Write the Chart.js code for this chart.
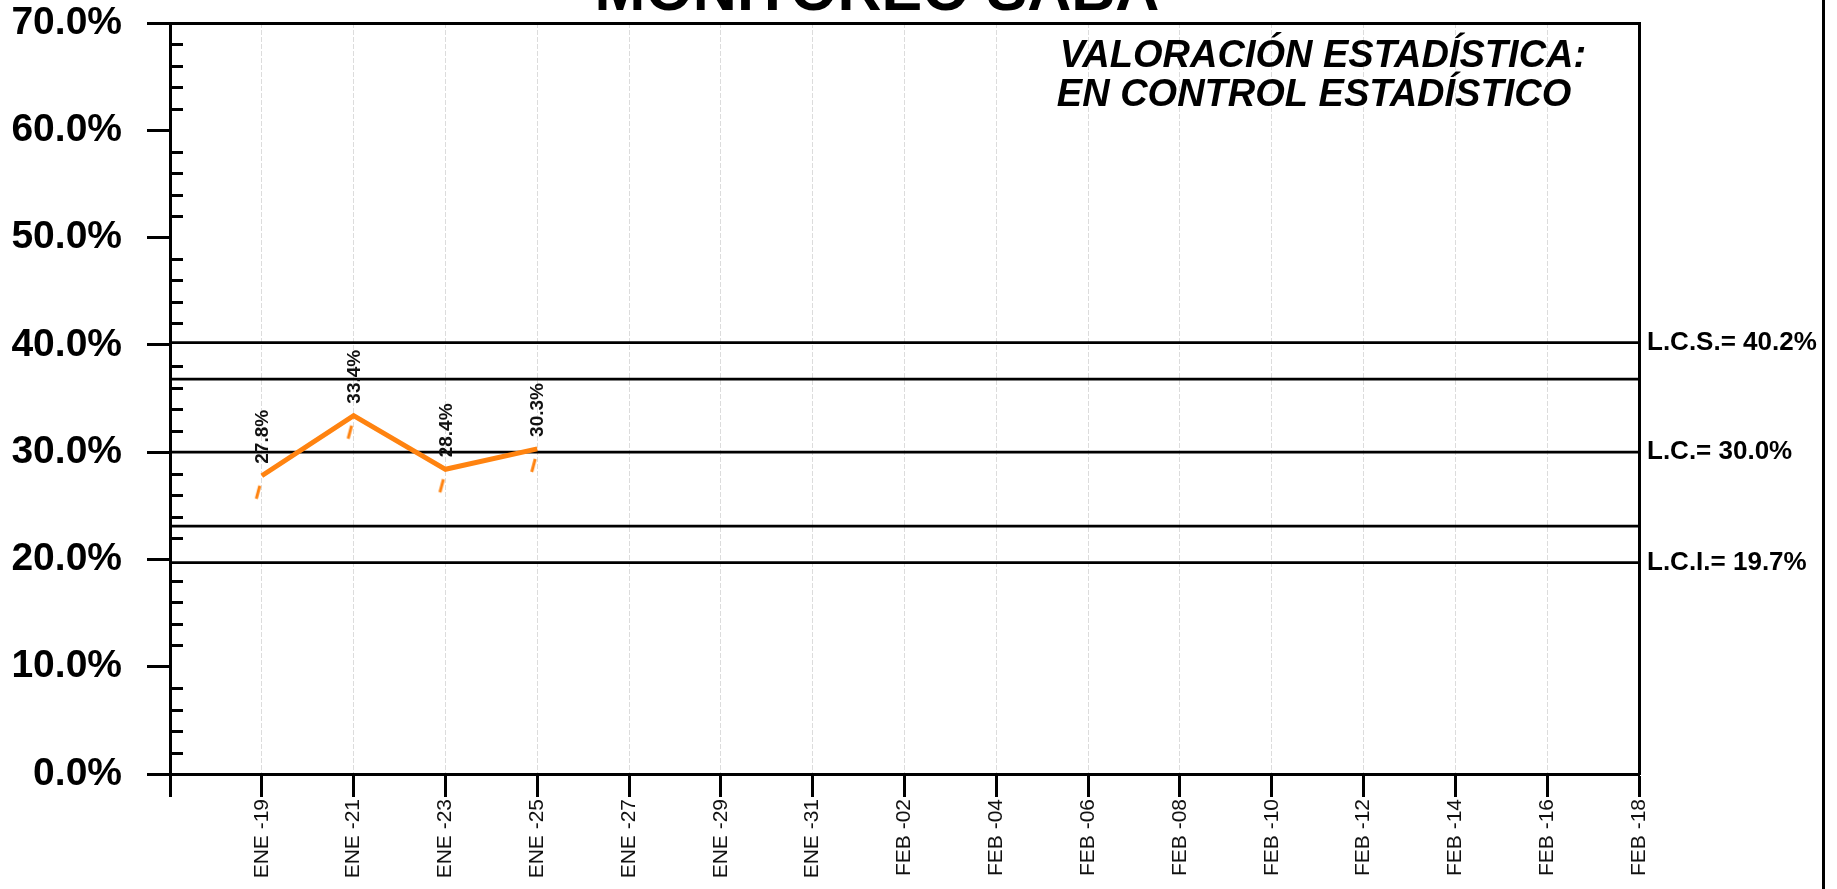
<!DOCTYPE html>
<html>
<head>
<meta charset="utf-8">
<script src="https://cdn.jsdelivr.net/npm/chart.js@4.4.1/dist/chart.umd.min.js"></script>
<style>
  html, body { margin: 0; padding: 0; background: #fff; overflow: hidden; }
  #wrap { position: relative; width: 1837px; height: 889px; }
</style>
</head>
<body>
<div id="wrap"><canvas id="spcChart" width="1837" height="889"></canvas></div>
<script>
// categories (every 2 days, first slot has no label)
const categories = ['', 'ENE -19', 'ENE -21', 'ENE -23', 'ENE -25', 'ENE -27', 'ENE -29', 'ENE -31',
  'FEB -02', 'FEB -04', 'FEB -06', 'FEB -08', 'FEB -10', 'FEB -12', 'FEB -14', 'FEB -16', 'FEB -18'];
const sabaValues = [null, 27.8, 33.4, 28.4, 30.3];

// control limits
const limitValues = [40.2, 30.0, 19.7];
const limitLabels = ['L.C.S.= 40.2%', 'L.C.= 30.0%', 'L.C.I.= 19.7%'];
const warnValues = [36.8, 23.1];

// y axis
const yMin = 0, yMax = 70, yMajor = 10, yMinor = 2;

const chartTitle = 'MONITOREO SABA';
const verdictLines = ['VALORACIÓN ESTADÍSTICA:', 'EN CONTROL ESTADÍSTICO'];

const FONT = '"Liberation Sans", Arial, Helvetica, sans-serif';
const orange = '#ff8310';

function dashMark() {
  const c = document.createElement('canvas');
  c.width = 20; c.height = 60;
  const g = c.getContext('2d');
  g.strokeStyle = orange;
  g.lineWidth = 3;
  g.beginPath();
  g.moveTo(8, 40);
  g.lineTo(4.5, 53);
  g.stroke();
  return c;
}

const flatLine = (v, w) => ({
  data: categories.map(() => v),
  borderColor: '#000',
  borderWidth: w,
  pointRadius: 0,
  fill: false,
  order: 2
});

const pointLabels = {
  id: 'pointLabels',
  afterDatasetsDraw(chart) {
    const meta = chart.getDatasetMeta(0);
    const ctx = chart.ctx;
    ctx.save();
    ctx.font = 'bold 19px ' + FONT;
    ctx.fillStyle = '#111';
    ctx.textAlign = 'left';
    ctx.textBaseline = 'middle';
    meta.data.forEach((pt, i) => {
      const v = sabaValues[i];
      if (v == null) return;
      ctx.save();
      ctx.translate(pt.x + 1, pt.y - 12);
      ctx.rotate(-Math.PI / 2);
      ctx.fillText(v.toFixed(1) + '%', 0, 0);
      ctx.restore();
    });
    ctx.restore();
  }
};

const frame = {
  id: 'frame',
  afterDraw(chart) {
    const ctx = chart.ctx;
    const y = chart.scales.y;
    const left = chart.chartArea.left;
    ctx.save();
    // minor ticks inside the plot
    ctx.strokeStyle = '#000';
    ctx.lineWidth = 3;
    for (let v = yMin; v <= yMax; v += yMinor) {
      if (v % yMajor === 0) continue;
      const py = Math.round(y.getPixelForValue(v)) + 0.5;
      ctx.beginPath();
      ctx.moveTo(left, py);
      ctx.lineTo(left + 13, py);
      ctx.stroke();
    }
    // outer frame line on the right
    ctx.beginPath();
    ctx.moveTo(1823.5, 0);
    ctx.lineTo(1823.5, chart.height);
    ctx.stroke();

    ctx.fillStyle = '#000';
    ctx.textAlign = 'center';
    ctx.textBaseline = 'alphabetic';
    ctx.font = 'bold 61px ' + FONT;
    ctx.fillText(chartTitle, 877, 10);

    ctx.font = 'italic bold 38px ' + FONT;
    ctx.fillText(verdictLines[0], 1323, 67);
    ctx.fillText(verdictLines[1], 1314, 106);
    ctx.restore();
  }
};

const noEdgePad = s => { s.paddingTop = 0; s.paddingBottom = 0; };

new Chart(document.getElementById('spcChart'), {
  type: 'line',
  data: {
    labels: categories,
    datasets: [
      {
        label: 'SABA',
        data: sabaValues,
        borderColor: orange,
        borderWidth: 5,
        pointStyle: dashMark(),
        pointRadius: 3,
        tension: 0,
        fill: false,
        order: 0
      },
      flatLine(limitValues[0], 2.8),
      flatLine(warnValues[0], 2.8),
      flatLine(limitValues[1], 2.8),
      flatLine(warnValues[1], 2.8),
      flatLine(limitValues[2], 2.8)
    ]
  },
  options: {
    responsive: false,
    animation: false,
    layout: { padding: { top: 23, left: 0, right: 0, bottom: 0 } },
    plugins: {
      legend: { display: false },
      tooltip: { enabled: false }
    },
    scales: {
      x: {
        type: 'category',
        offset: false,
        ticks: {
          autoSkip: false, minRotation: 90, maxRotation: 90, padding: 2,
          color: '#111', font: { family: FONT, size: 21 }
        },
        grid: {
          offset: false, color: '#dcdcdc', lineWidth: 1,
          tickLength: 23, tickWidth: 3, tickColor: '#000', tickBorderDash: []
        },
        border: { color: '#000', width: 3, dash: [5, 2] },
        afterFit: s => { s.height = 889 - 774; }
      },
      y: {
        position: 'left',
        min: yMin, max: yMax,
        ticks: {
          stepSize: yMinor, autoSkip: false, padding: 25, color: '#000',
          font: { family: FONT, size: 39, weight: 'bold' },
          callback: v => (v % yMajor === 0 ? v.toFixed(1) + '%' : '')
        },
        grid: {
          color: c => (c.tick && c.tick.value === yMax ? '#000' : 'rgba(0,0,0,0)'),
          lineWidth: 3,
          tickLength: 23, tickWidth: 3,
          tickColor: c => (c.tick && c.tick.value % yMajor === 0 ? '#000' : 'rgba(0,0,0,0)')
        },
        border: { color: '#000', width: 3 },
        afterFit: s => { s.width = 170; noEdgePad(s); }
      },
      y2: {
        position: 'right',
        min: yMin, max: yMax,
        afterBuildTicks: s => { s.ticks = limitValues.map(v => ({ value: v })); },
        ticks: {
          autoSkip: false, padding: 8, color: '#000',
          font: { family: FONT, size: 26, weight: 'bold' },
          callback: (v, i) => limitLabels[i]
        },
        grid: { drawOnChartArea: false, drawTicks: false },
        border: { color: '#000', width: 3 },
        afterFit: s => { s.width = 1837 - 1639; noEdgePad(s); }
      }
    }
  },
  plugins: [pointLabels, frame]
});
</script>
</body>
</html>
